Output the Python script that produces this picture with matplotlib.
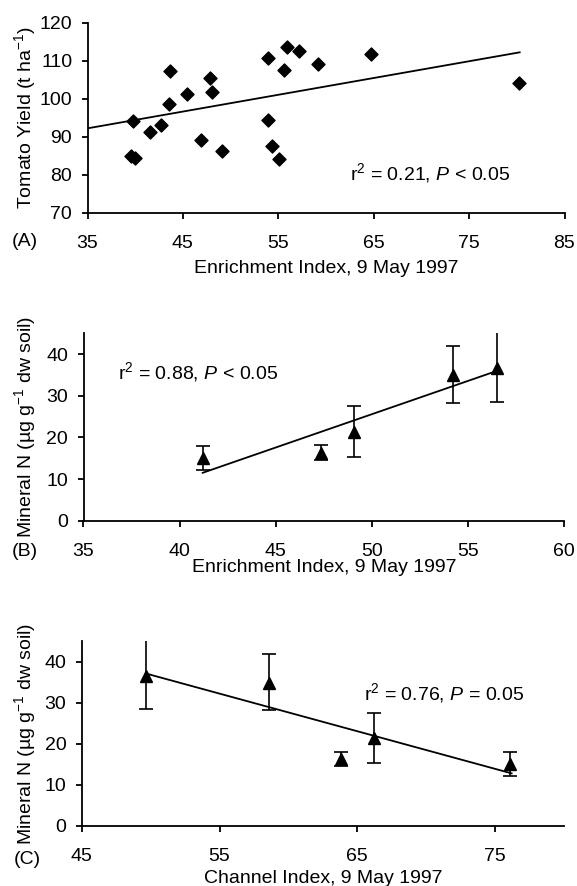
import matplotlib
matplotlib.use("Agg")
import matplotlib.pyplot as plt

plt.rcParams['font.family'] = ['Liberation Sans', 'DejaVu Sans']
plt.rcParams['mathtext.fontset'] = 'custom'
plt.rcParams['mathtext.rm'] = 'Liberation Sans'
plt.rcParams['mathtext.it'] = 'Liberation Sans:italic'

# Panel A data
ei_a = [39.8, 39.6, 40.0, 41.5, 42.7, 43.6, 43.5, 45.4, 46.9, 47.8, 48.1, 49.1,
        53.9, 53.9, 54.3, 55.1, 55.9, 55.6, 57.2, 59.2, 64.7, 80.2]
yield_a = [94.0, 85.0, 84.3, 91.3, 93.0, 107.3, 98.6, 101.2, 89.1, 105.5, 101.7, 86.3,
           110.6, 94.4, 87.6, 84.1, 113.7, 107.5, 112.5, 109.0, 111.8, 104.2]
trend_a_x = [35.0, 80.3]
trend_a_y = [92.2, 112.2]

# Panel B / C data (same five samples)
ei_b = [41.2, 47.35, 49.05, 54.2, 56.5]
ci_c = [76.1, 63.8, 66.2, 58.6, 49.65]
min_n = [15.0, 16.2, 21.4, 34.9, 36.6]
err_up = [2.9, 1.9, 6.2, 7.0, 8.6]
err_dn = [2.8, 1.6, 6.1, 6.6, 8.2]
trend_b_x = [41.2, 56.4]
trend_b_y = [11.5, 35.8]
trend_c_x = [49.65, 76.2]
trend_c_y = [37.1, 12.8]

fs = 14
W, H = 577, 886
fig = plt.figure(figsize=(W/100, H/100), dpi=100)

def rect(l, r, t, b):
    return [l/W, 1-b/H, (r-l)/W, (b-t)/H]

def style(ax, l, r, t, b, xlab_base):
    for s in ['top', 'right']:
        ax.spines[s].set_visible(False)
    for s in ['left', 'bottom']:
        ax.spines[s].set_linewidth(1.3)
    ax.tick_params(direction='out', length=4.5, width=1.3, labelsize=fs)
    ax.tick_params(axis='x', pad=11.5)
    ax.tick_params(axis='y', pad=6.5)
    h = b - t
    w = r - l
    ax.xaxis.set_label_coords(0.5, -(xlab_base - b)/h)
    ax.xaxis.label.set_verticalalignment('baseline')
    ax.yaxis.set_label_coords(-(l - 25.5)/w, 0.5)
    ax.yaxis.label.set_verticalalignment('center')

# Panel A
A = (87.5, 564.5, 22.7, 212.7)
axA = fig.add_axes(rect(*A))
axA.scatter(ei_a, yield_a, marker='D', s=44, color='black', zorder=3, clip_on=False)
axA.plot(trend_a_x, trend_a_y, color='black', lw=1.3)
axA.set_xlim(35, 85)
axA.set_ylim(70, 120)
axA.set_xticks([35, 45, 55, 65, 75, 85])
axA.set_yticks([70, 80, 90, 100, 110, 120])
axA.set_xlabel('Enrichment Index, 9 May 1997', fontsize=fs)
axA.set_ylabel('Tomato Yield (t ha$^{-1}$)', fontsize=fs)
style(axA, *A, 273.3)
axA.text(62.5, 80.4, r'r$^{2}$ = 0.21, $\mathit{P}$ < 0.05', fontsize=fs, va='center', ha='left')
fig.text(11.7/W, 1-241.7/H, '(A)', fontsize=fs, va='center', ha='left')

# Panel B
B = (83.5, 564.0, 333.3, 520.7)
axB = fig.add_axes(rect(*B))
axB.errorbar(ei_b, min_n, yerr=[err_dn, err_up], fmt='^', color='black', ms=8.5,
             capsize=4.8, elinewidth=1.2, capthick=1.2, zorder=3)
axB.plot(trend_b_x, trend_b_y, color='black', lw=1.3)
axB.set_xlim(35, 60)
axB.set_ylim(0, 45)
axB.set_xticks([35, 40, 45, 50, 55, 60])
axB.set_yticks([0, 10, 20, 30, 40])
axB.set_xlabel('Enrichment Index, 9 May 1997', fontsize=fs)
axB.set_ylabel('Mineral N (µg g$^{-1}$ dw soil)', fontsize=fs)
style(axB, *B, 572.0)
axB.text(36.8, 35.6, r'r$^{2}$ = 0.88, $\mathit{P}$ < 0.05', fontsize=fs, va='center', ha='left')
fig.text(11.7/W, 1-551.7/H, '(B)', fontsize=fs, va='center', ha='left')

# Panel C
C = (81.7, 564.0, 641.0, 826.0)
axC = fig.add_axes(rect(*C))
axC.errorbar(ci_c, min_n, yerr=[err_dn, err_up], fmt='^', color='black', ms=8.5,
             capsize=4.8, elinewidth=1.2, capthick=1.2, zorder=3)
axC.plot(trend_c_x, trend_c_y, color='black', lw=1.3)
axC.set_xlim(45, 80)
axC.set_ylim(0, 45)
axC.set_xticks([45, 55, 65, 75])
axC.set_yticks([0, 10, 20, 30, 40])
axC.set_xlabel('Channel Index, 9 May 1997', fontsize=fs)
axC.set_ylabel('Mineral N (µg g$^{-1}$ dw soil)', fontsize=fs)
style(axC, *C, 883.0)
axC.text(65.5, 32.4, r'r$^{2}$ = 0.76, $\mathit{P}$ = 0.05', fontsize=fs, va='center', ha='left')
fig.text(13.3/W, 1-860/H, '(C)', fontsize=fs, va='center', ha='left')

fig.savefig('out.png', dpi=100)
